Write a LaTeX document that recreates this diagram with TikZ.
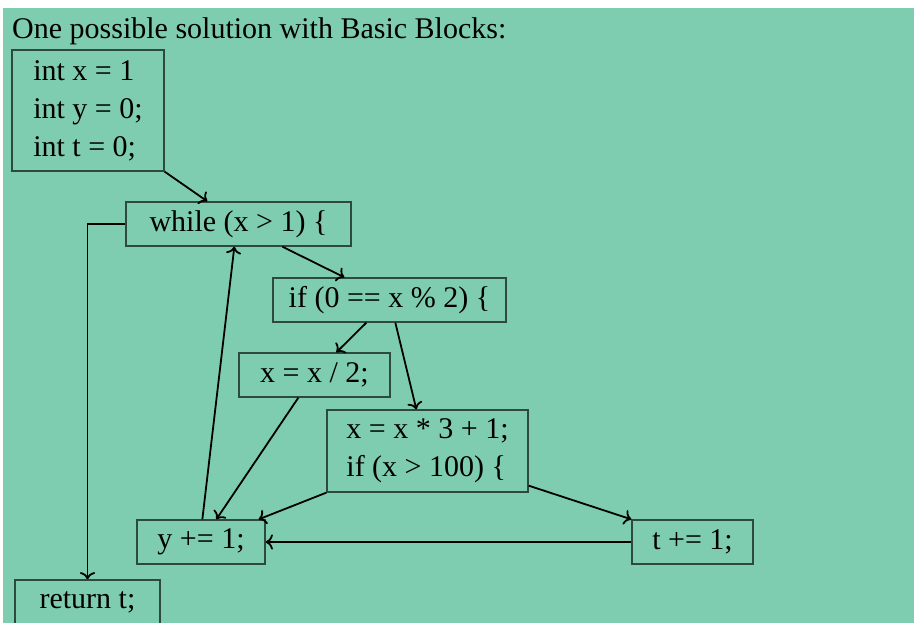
\documentclass[tikz,border=0pt]{standalone}
\usepackage{fontspec}
\setmainfont{Liberation Serif}
\usetikzlibrary{
  arrows.meta,
  positioning,
  calc,
}
\definecolor{slide}{HTML}{7FCDB1}
\definecolor{boxStroke}{HTML}{2E4A40}
\definecolor{ink}{HTML}{000000}
\tikzset{
  every node/.style={
    font=\fontsize{30}{38}\selectfont,
    text=ink,
    inner sep=0pt,
  },
  block/.style={
    rectangle,
    draw=boxStroke, line width=1.3pt,
    minimum height=44,
  },
  flow/.style={
    -{To[scale=1.3]}, draw=ink, line width=1.8pt,
  },
}

\begin{document}
\begin{tikzpicture}[x=1pt, y=-1pt]

% ----- canvas (pixel grid, y grows downwards) -----
\useasboundingbox (0,0) rectangle (914,623);
\fill[slide] (3,8) rectangle (914,623);

\node[anchor=base west] (title) at (12,39) {One possible solution with Basic Blocks:};

% ----- basic blocks -----
\node[block, minimum width=152, minimum height=121, align=left] (init) at (88,110.5)
  {int x = 1\\int y = 0;\\int t = 0;};
\node[block, minimum width=225] (loop) at (238.5,224) {while (x > 1) \{};
\node[block, minimum width=233] (even) at (389.5,300) {if (0 == x \% 2) \{};
\node[block, minimum width=151] (half) at (314.5,375) {x = x / 2;};
\node[block, minimum width=201, minimum height=82, align=left] (odd) at (427.5,451)
  {x = x * 3 + 1;\\if (x > 100) \{};
\node[block, minimum width=128] (incy) at (201,542) {y += 1;};
\node[block, minimum width=121] (inct) at (692.5,542) {t += 1;};
\node[block, minimum width=145] (ret)  at (87.5,602) {return t;};

% ----- control flow -----
\draw[flow] (init.south east) -- ($(loop.north west)+(82,0)$);
\draw[flow] ($(loop.south west)+(157,0)$) -- ($(even.north west)+(72,0)$);
\draw[flow] ($(even.south west)+(94,0)$) -- ($(half.north west)+(98,0)$);
\draw[flow] ($(even.south west)+(123,0)$) -- ($(odd.north west)+(90,0)$);
\draw[flow] ($(half.south west)+(60,0)$) -- ($(incy.north west)+(80,0)$);
\draw[flow] (odd.south west) -- ($(incy.north east)+(-7,0)$);
\draw[flow] ($(odd.south east)+(0,-7)$) -- (inct.north west);
\draw[flow] (inct.west) -- (incy.east);

% back edge and loop exit
\draw[flow] ($(incy.north west)+(66,0)$) -- ($(loop.south west)+(109,0)$);
\draw[flow] (loop.west) -| (ret.north);

\end{tikzpicture}
\end{document}
